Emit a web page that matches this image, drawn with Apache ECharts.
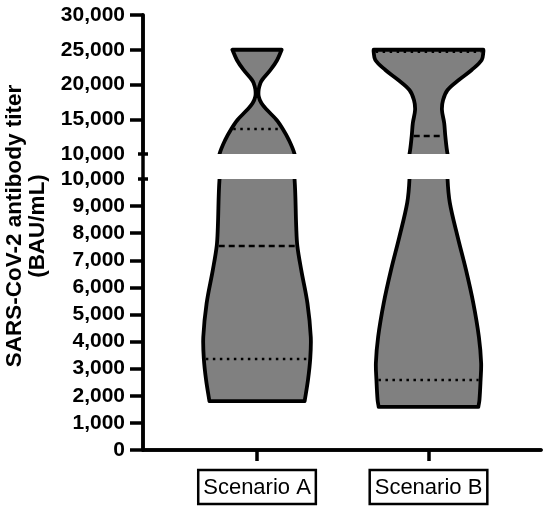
<!DOCTYPE html>
<html>
<head>
<meta charset="utf-8">
<script src="https://cdn.jsdelivr.net/npm/echarts@6/dist/echarts.min.js"></script>
<style>
  html, body { margin: 0; padding: 0; background: #fff; }
  #chart { width: 550px; height: 513px; }
</style>
</head>
<body>
<div id="chart"></div>
<script>
// categories on the x axis
const categories = ['Scenario A', 'Scenario B'];

// violin outlines: titer values (BAU/mL) and relative density (half width, 1 = widest)
const violinAValues = [1800, 2580, 3360, 4170, 5420, 6640, 7530, 8230, 10000, 12000, 13600, 14900, 16330, 17300, 18300, 19300, 20200, 20650, 22090, 23530, 25000];
const violinAWidths = [0.85, 0.91, 0.95, 0.96, 0.90, 0.79, 0.72, 0.70, 0.67, 0.57, 0.46, 0.35, 0.18, 0.08, 0.03, 0.03, 0.06, 0.09, 0.24, 0.36, 0.44];
const violinBValues = [1590, 1850, 2580, 3210, 4170, 5420, 6640, 7870, 9130, 10000, 12590, 14460, 16330, 17770, 19210, 20650, 22090, 23530, 24720, 25000];
const violinBWidths = [0.89, 0.91, 0.93, 0.94, 0.90, 0.80, 0.67, 0.52, 0.38, 0.34, 0.30, 0.28, 0.24, 0.26, 0.34, 0.54, 0.77, 0.95, 0.98, 0.98];

// quartile lines
const medians = [7530, 12590];
const lowerQuartiles = [3360, 2580];
const upperQuartiles = [13600, 24720];

// axis ticks of the broken y axis
const upperTicks = [15000, 20000, 25000, 30000];
const lowerTicks = [0, 1000, 2000, 3000, 4000, 5000, 6000, 7000, 8000, 9000];
const breakValue = [10000];

const profiles = [
  { values: violinAValues, widths: violinAWidths },
  { values: violinBValues, widths: violinBWidths }
];

const X_MIN = 0.335;
const X_MAX = 2.656;
const HALF = 0.3265; // x units for a density of 1
const FONT = '"Liberation Sans", Arial, sans-serif';

function widthAt(p, v) {
  for (let i = 0; i < p.values.length - 1; i++) {
    const a = p.values[i], b = p.values[i + 1];
    if (v >= a && v <= b) {
      const t = (v - a) / (b - a);
      return p.widths[i] + t * (p.widths[i + 1] - p.widths[i]);
    }
  }
  return 0;
}

function renderViolin(params, api) {
  const idx = api.value(0);
  const p = profiles[idx];
  const cx = idx + 1;
  const n = p.values.length;
  const left = [], right = [];
  for (let i = 0; i < n; i++) {
    left.push(api.coord([cx - p.widths[i] * HALF, p.values[i]]));
    right.push(api.coord([cx + p.widths[i] * HALF, p.values[i]]));
  }
  right.reverse();
  // doubled corner points keep the flat ends straight
  const points = [left[0]].concat(left, [left[n - 1]], [right[0]], right, [right[n - 1]]);
  const children = [{
    type: 'polygon',
    shape: { points: points, smooth: 0.35 },
    style: { fill: '#808080', stroke: '#000', lineWidth: 3.8, lineJoin: 'round' }
  }];
  const lines = [
    [lowerQuartiles[idx], [2.5, 4.5]],
    [medians[idx], [6, 4]],
    [upperQuartiles[idx], [2.5, 4.5]]
  ];
  lines.forEach(function (l) {
    const w = widthAt(p, l[0]) * HALF;
    const a = api.coord([cx - w, l[0]]);
    const b = api.coord([cx + w, l[0]]);
    children.push({
      type: 'line',
      shape: { x1: a[0] + 2, y1: a[1], x2: b[0] - 2, y2: b[1] },
      style: { stroke: '#000', lineWidth: 2.5, lineDash: l[1] }
    });
  });
  return { type: 'group', children: children };
}

const fmt = v => String(v).replace(/\B(?=(\d{3})+(?!\d))/g, ',');

const lineStyle = { color: '#000', width: 3.5 };
const yLabel = { color: '#000', fontSize: 21, fontWeight: 'bold', fontFamily: FONT, margin: 18, formatter: fmt };

function capAxis(grid, min, max, inside) {
  return {
    gridIndex: grid, type: 'value', min: min, max: max, position: 'left',
    axisLine: { show: false }, axisLabel: { show: false }, splitLine: { show: false },
    axisTick: { show: true, inside: inside, length: 5, lineStyle: lineStyle, customValues: breakValue }
  };
}

const chart = echarts.init(document.getElementById('chart'));
chart.setOption({
  animation: false,
  backgroundColor: '#fff',
  grid: [
    { left: 143, right: 9, top: 15, height: 139 },
    { left: 143, right: 9, top: 179, height: 271 },
    { left: 143, right: 9, top: 15, bottom: 63 }
  ],
  xAxis: [
    { gridIndex: 0, type: 'value', min: X_MIN, max: X_MAX, show: false },
    {
      gridIndex: 1, type: 'value', min: X_MIN, max: X_MAX,
      axisLine: { show: true, lineStyle: lineStyle },
      axisTick: { show: true, length: 11, lineStyle: lineStyle, customValues: [1, 2] },
      splitLine: { show: false },
      axisLabel: {
        customValues: [1, 2],
        formatter: v => categories[Math.round(v) - 1],
        color: '#000', fontSize: 22, fontFamily: FONT, lineHeight: 26,
        borderColor: '#000', borderWidth: 2.5, padding: [5, 5, 3, 5], margin: 20
      }
    },
    {
      gridIndex: 2, type: 'value', position: 'top', min: 0, max: 1,
      axisLine: { show: true, lineStyle: lineStyle },
      axisTick: { show: false }, axisLabel: { show: false }, splitLine: { show: false }
    }
  ],
  yAxis: [
    {
      gridIndex: 0, type: 'value', min: 10000, max: 30000, interval: 5000,
      axisLine: { show: true, lineStyle: lineStyle },
      axisTick: { show: true, length: 13, lineStyle: lineStyle, customValues: upperTicks },
      axisLabel: yLabel, splitLine: { show: false }
    },
    {
      gridIndex: 1, type: 'value', min: 0, max: 10000, interval: 1000,
      axisLine: { show: true, lineStyle: lineStyle },
      axisTick: { show: true, length: 13, lineStyle: lineStyle, customValues: lowerTicks },
      axisLabel: yLabel, splitLine: { show: false }
    },
    {
      gridIndex: 2, type: 'value', position: 'right', min: 0, max: 1,
      axisLine: { show: true, lineStyle: lineStyle },
      axisTick: { show: false }, axisLabel: { show: false }, splitLine: { show: false }
    },
    capAxis(0, 10000, 30000, true),
    capAxis(0, 10000, 30000, false),
    capAxis(1, 0, 10000, true),
    capAxis(1, 0, 10000, false)
  ],
  graphic: [{
    type: 'text',
    x: 26, y: 226, rotation: Math.PI / 2,
    style: {
      text: 'SARS-CoV-2 antibody titer\n(BAU/mL)',
      font: 'bold 22.5px ' + FONT,
      fill: '#000', textAlign: 'center', textVerticalAlign: 'middle', lineHeight: 23
    }
  }],
  series: [
    { type: 'custom', xAxisIndex: 0, yAxisIndex: 0, clip: true, renderItem: renderViolin, data: [[0], [1]], silent: true },
    { type: 'custom', xAxisIndex: 1, yAxisIndex: 1, clip: true, renderItem: renderViolin, data: [[0], [1]], silent: true }
  ]
});
window.addEventListener('resize', () => chart.resize());
</script>
</body>
</html>
